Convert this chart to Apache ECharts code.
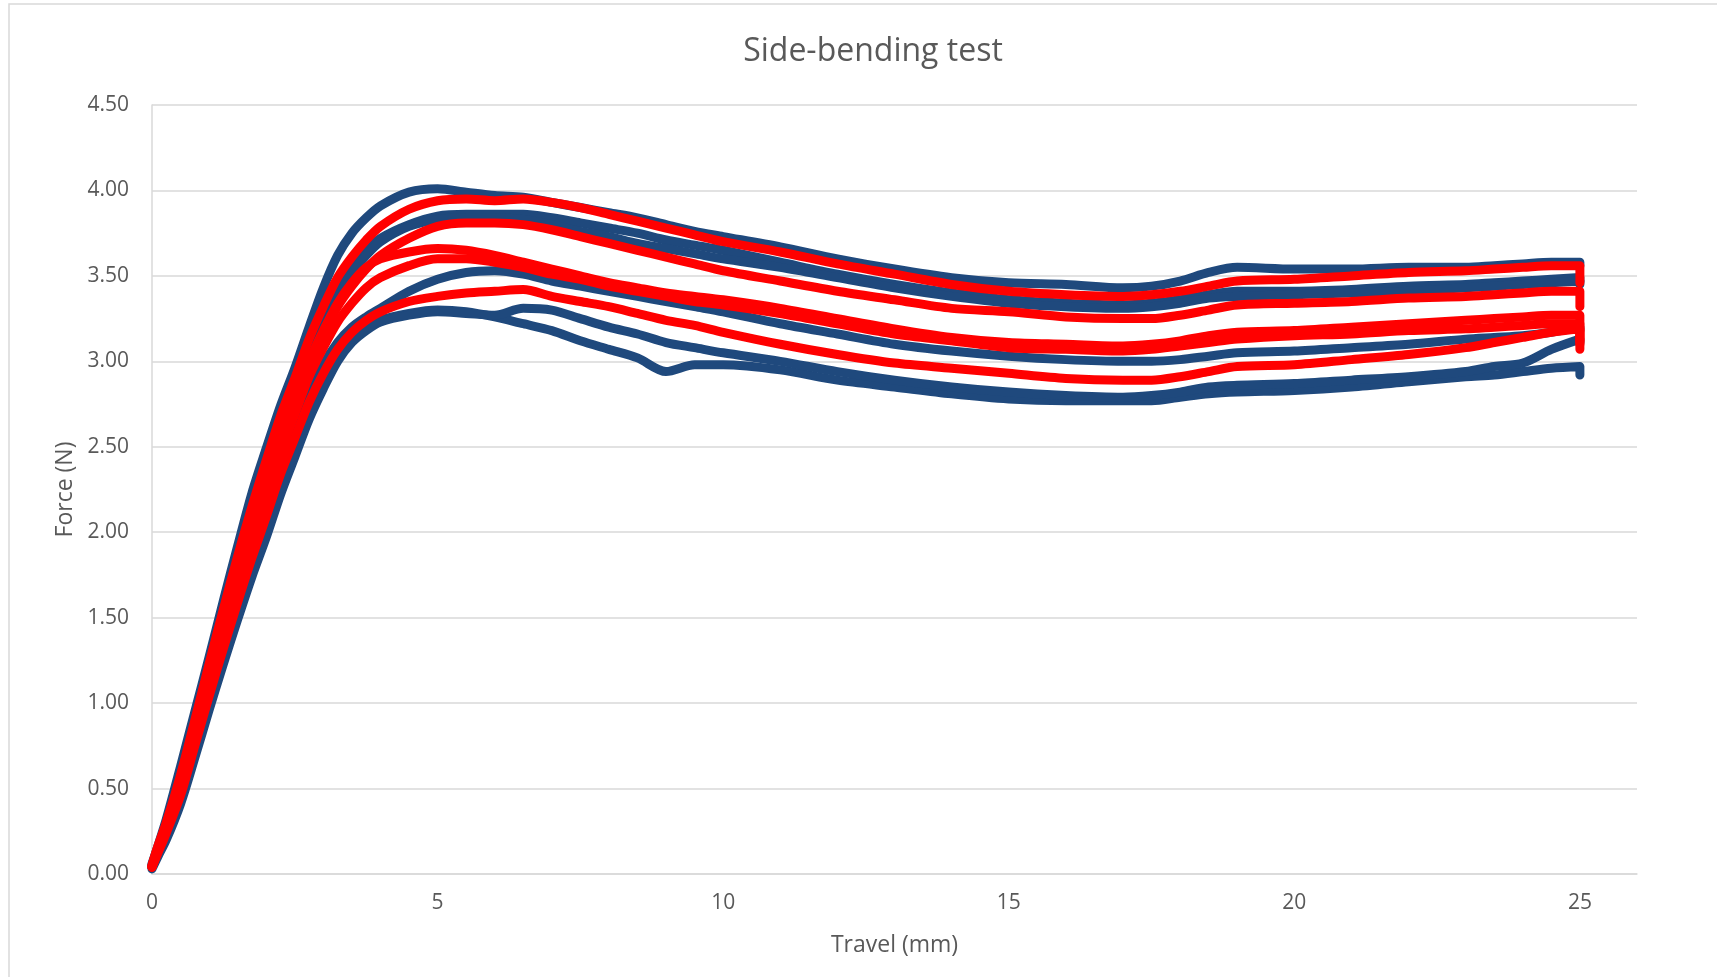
<!DOCTYPE html>
<html>
<head>
<meta charset="utf-8">
<title>Side-bending test</title>
<script src="https://cdn.jsdelivr.net/npm/echarts@6/dist/echarts.min.js"></script>
<style>
  html, body { margin: 0; padding: 0; background: #fff; }
  #chart { width: 1717px; height: 977px; }
</style>
</head>
<body>
<div id="chart"></div>
<script>
// travel (mm) sample points, shared by every specimen
const travel = [0, 0.1, 0.25, 0.5, 0.75, 1, 1.25, 1.5, 1.75, 2, 2.25, 2.5, 2.75, 3, 3.25, 3.5, 3.75, 4, 4.5, 5,
  5.5, 6, 6.5, 7, 7.5, 8, 8.5, 9, 9.5, 10, 11, 12, 13, 14, 15, 16, 17, 17.5, 18, 18.5,
  19, 20, 21, 22, 23, 23.5, 24, 24.5, 25]

// force (N) - blue specimens
const blue1 = [0.06, 0.16, 0.32, 0.63, 0.95, 1.27, 1.60, 1.92, 2.23, 2.49, 2.74, 2.96, 3.20, 3.43, 3.62, 3.75, 3.84, 3.91, 3.99, 4.01,
  3.99, 3.97, 3.96, 3.93, 3.90, 3.87, 3.84, 3.80, 3.76, 3.73, 3.67, 3.60, 3.54, 3.49, 3.46, 3.45, 3.43, 3.44, 3.47, 3.52,
  3.55, 3.54, 3.54, 3.55, 3.55, 3.56, 3.57, 3.58, 3.58]
const blue2 = [0.05, 0.15, 0.29, 0.56, 0.88, 1.20, 1.51, 1.81, 2.09, 2.35, 2.61, 2.84, 3.07, 3.26, 3.43, 3.55, 3.65, 3.72, 3.80, 3.85,
  3.86, 3.86, 3.86, 3.84, 3.81, 3.78, 3.75, 3.71, 3.68, 3.65, 3.58, 3.51, 3.45, 3.40, 3.36, 3.34, 3.33, 3.34, 3.36, 3.39,
  3.41, 3.41, 3.42, 3.44, 3.45, 3.46, 3.47, 3.48, 3.49]
const blue3 = [0.04, 0.13, 0.27, 0.54, 0.85, 1.17, 1.48, 1.77, 2.05, 2.31, 2.57, 2.80, 3.03, 3.22, 3.39, 3.52, 3.62, 3.70, 3.79, 3.83,
  3.84, 3.84, 3.83, 3.80, 3.76, 3.73, 3.69, 3.66, 3.63, 3.60, 3.55, 3.49, 3.43, 3.38, 3.34, 3.32, 3.31, 3.32, 3.34, 3.37,
  3.38, 3.39, 3.40, 3.41, 3.43, 3.44, 3.45, 3.46, 3.47]
const blue4 = [0.05, 0.13, 0.25, 0.48, 0.77, 1.06, 1.34, 1.61, 1.87, 2.11, 2.36, 2.58, 2.80, 2.98, 3.11, 3.20, 3.26, 3.31, 3.41, 3.48,
  3.52, 3.53, 3.51, 3.47, 3.44, 3.41, 3.38, 3.35, 3.32, 3.29, 3.22, 3.16, 3.10, 3.06, 3.03, 3.01, 3.00, 3.00, 3.01, 3.03,
  3.05, 3.06, 3.08, 3.10, 3.13, 3.14, 3.15, 3.17, 3.20]
const blue5 = [0.04, 0.11, 0.22, 0.43, 0.71, 0.99, 1.26, 1.52, 1.77, 2.00, 2.25, 2.47, 2.69, 2.87, 3.02, 3.12, 3.19, 3.24, 3.28, 3.30,
  3.29, 3.26, 3.22, 3.18, 3.12, 3.07, 3.02, 2.94, 2.98, 2.98, 2.95, 2.89, 2.85, 2.81, 2.78, 2.77, 2.77, 2.77, 2.79, 2.81,
  2.82, 2.83, 2.85, 2.88, 2.91, 2.92, 2.94, 2.96, 2.97]
const blue6 = [0.03, 0.10, 0.20, 0.41, 0.68, 0.96, 1.23, 1.49, 1.74, 1.97, 2.22, 2.44, 2.66, 2.84, 3.00, 3.11, 3.18, 3.23, 3.27, 3.29,
  3.28, 3.27, 3.31, 3.30, 3.25, 3.20, 3.16, 3.11, 3.08, 3.05, 3.00, 2.94, 2.89, 2.85, 2.82, 2.80, 2.79, 2.80, 2.82, 2.85,
  2.86, 2.87, 2.89, 2.91, 2.94, 2.97, 2.99, 3.07, 3.13]

// force (N) - red specimens
const red1 = [0.05, 0.16, 0.30, 0.58, 0.90, 1.23, 1.55, 1.86, 2.15, 2.42, 2.68, 2.90, 3.13, 3.32, 3.49, 3.61, 3.71, 3.79, 3.89, 3.94,
  3.95, 3.94, 3.95, 3.93, 3.90, 3.86, 3.82, 3.78, 3.74, 3.70, 3.64, 3.57, 3.51, 3.45, 3.41, 3.39, 3.38, 3.39, 3.41, 3.44,
  3.47, 3.48, 3.50, 3.52, 3.53, 3.54, 3.55, 3.56, 3.56]
const red2 = [0.04, 0.14, 0.28, 0.54, 0.85, 1.17, 1.48, 1.77, 2.04, 2.29, 2.54, 2.76, 2.98, 3.16, 3.32, 3.44, 3.54, 3.62, 3.72, 3.79,
  3.81, 3.81, 3.80, 3.77, 3.73, 3.69, 3.65, 3.61, 3.57, 3.53, 3.47, 3.41, 3.36, 3.31, 3.29, 3.26, 3.25, 3.25, 3.27, 3.30,
  3.33, 3.34, 3.35, 3.37, 3.38, 3.39, 3.40, 3.41, 3.41]
const red3 = [0.05, 0.15, 0.28, 0.53, 0.83, 1.14, 1.45, 1.74, 2.01, 2.27, 2.54, 2.78, 3.00, 3.18, 3.34, 3.46, 3.55, 3.60, 3.64, 3.66,
  3.65, 3.62, 3.58, 3.54, 3.50, 3.46, 3.43, 3.40, 3.38, 3.36, 3.31, 3.25, 3.19, 3.14, 3.11, 3.10, 3.09, 3.10, 3.12, 3.15,
  3.17, 3.18, 3.20, 3.22, 3.24, 3.25, 3.26, 3.27, 3.27]
const red4 = [0.04, 0.13, 0.26, 0.50, 0.80, 1.10, 1.40, 1.68, 1.95, 2.20, 2.46, 2.69, 2.91, 3.08, 3.23, 3.34, 3.43, 3.49, 3.56, 3.60,
  3.60, 3.58, 3.55, 3.51, 3.48, 3.44, 3.41, 3.38, 3.35, 3.33, 3.28, 3.22, 3.16, 3.12, 3.08, 3.07, 3.06, 3.07, 3.09, 3.11,
  3.13, 3.15, 3.16, 3.18, 3.19, 3.20, 3.21, 3.22, 3.22]
const red5 = [0.04, 0.12, 0.24, 0.46, 0.75, 1.04, 1.32, 1.59, 1.85, 2.09, 2.34, 2.55, 2.76, 2.93, 3.07, 3.17, 3.24, 3.29, 3.35, 3.38,
  3.40, 3.41, 3.42, 3.38, 3.35, 3.32, 3.28, 3.24, 3.21, 3.17, 3.10, 3.04, 2.99, 2.96, 2.93, 2.90, 2.89, 2.89, 2.91, 2.94,
  2.97, 2.98, 3.01, 3.04, 3.08, 3.11, 3.14, 3.17, 3.19]

// last reading of each specimen when the travel stops at 25 mm (force drop)
const blueEnd = [3.56, 3.47, 3.45, 3.18, 2.92, 3.11]
const redEnd = [3.46, 3.32, 3.12, 3.10, 3.07]

const yTicks = [0, 0.5, 1, 1.5, 2, 2.5, 3, 3.5, 4, 4.5]

const BLUE = '#1F497D'
const RED = '#FF0000'
const FONT = '"Open Sans", "Noto Sans", sans-serif'

const makeSeries = function (force, endValue, color) {
  const pts = travel.map((x, i) => [x, force[i]])
  pts.push([travel[travel.length - 1], endValue])
  return {
    type: 'line',
    data: pts,
    showSymbol: false,
    smooth: 0.3,
    silent: true,
    lineStyle: { color: color, width: 9, cap: 'round', join: 'round' },
    itemStyle: { color: color }
  }
}

const blues = [blue1, blue2, blue3, blue4, blue5, blue6]
const reds = [red1, red2, red3, red4, red5]
const series = []
blues.forEach((f, i) => series.push(makeSeries(f, blueEnd[i], BLUE)))
reds.forEach((f, i) => series.push(makeSeries(f, redEnd[i], RED)))

const chart = echarts.init(document.getElementById('chart'))
chart.setOption({
  animation: false,
  backgroundColor: '#fff',
  graphic: [{
    type: 'rect',
    shape: { x: 9, y: 4, width: 1800, height: 1100 },
    style: { fill: 'none', stroke: '#D9D9D9', lineWidth: 1.5 },
    silent: true,
    z: -1
  }],
  title: {
    text: 'Side-bending test',
    left: 868,
    top: 31,
    textAlign: 'center',
    textStyle: { fontFamily: FONT, fontSize: 32, fontWeight: 'normal', color: '#595959' }
  },
  grid: { left: 152, right: 80, top: 105, bottom: 103 },
  xAxis: {
    type: 'value',
    min: 0,
    max: 26,
    interval: 5,
    name: 'Travel (mm)',
    nameLocation: 'middle',
    nameGap: 60,
    nameTextStyle: { fontFamily: FONT, fontSize: 23, color: '#595959' },
    axisLine: { lineStyle: { color: '#D9D9D9', width: 1.5 } },
    axisTick: { show: false },
    splitLine: { show: false },
    axisLabel: { showMaxLabel: false, margin: 19, fontFamily: FONT, fontSize: 21, color: '#595959' }
  },
  yAxis: {
    type: 'value',
    min: yTicks[0],
    max: yTicks[yTicks.length - 1],
    interval: 0.5,
    name: 'Force (N)',
    nameLocation: 'middle',
    nameGap: 75,
    nameTextStyle: { fontFamily: FONT, fontSize: 23, color: '#595959' },
    axisLine: { show: true, lineStyle: { color: '#D9D9D9', width: 1.5 } },
    axisTick: { show: false },
    splitLine: { lineStyle: { color: '#D9D9D9', width: 1.5 } },
    axisLabel: {
      margin: 23,
      fontFamily: FONT,
      fontSize: 21,
      color: '#595959',
      formatter: v => v.toFixed(2)
    }
  },
  series: series
})
</script>
</body>
</html>
